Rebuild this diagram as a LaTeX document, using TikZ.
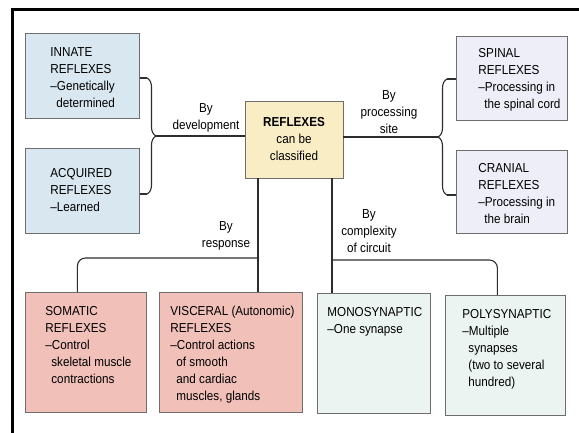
\documentclass[tikz,border=0pt]{standalone}
\usepackage{fontspec}
\setmainfont{Liberation Sans}[FakeStretch=0.9]
\usetikzlibrary{positioning, decorations.pathreplacing}

\definecolor{innblue}{RGB}{217,231,241}
\definecolor{centreyel}{RGB}{248,237,196}
\definecolor{sitelav}{RGB}{238,238,248}
\definecolor{resppink}{RGB}{240,192,185}
\definecolor{cplxmint}{RGB}{235,244,241}
\definecolor{boxline}{RGB}{110,110,110}
\definecolor{linkline}{RGB}{45,45,45}

% width, height, left inset, top inset, text
\newcommand{\boxtext}[5]{\hspace*{#3pt}\parbox[c][#2pt][t]{\dimexpr#1pt-#3pt\relax}{\raggedright\vspace*{#4pt}#5}}

\tikzset{
  box/.style={draw=boxline, line width=0.8pt, anchor=north west, inner sep=0pt},
  link/.style={draw=linkline, line width=1.1pt},
  brc/.style={link, decorate, decoration={brace, amplitude=9pt}},
  lbl/.style={align=center, inner sep=0pt}
}

\begin{document}
\fontsize{13}{17}\selectfont
\begin{tikzpicture}[x=1pt, y=-1pt]
  \useasboundingbox (0,0) rectangle (579,432);
  \clip (0,0) rectangle (579,432);
  \fill[white] (0,0) rectangle (579,432);
  \draw[line width=3pt] (12.5,9.5) rectangle (600,460);

  % boxes
  \node[box, fill=innblue] (innate) at (25,33)
    {\boxtext{114}{85}{25}{14}{INNATE\\REFLEXES\\--Genetically\\\hspace*{6pt}determined}};
  \node[box, fill=innblue] (acquired) at (25,148)
    {\boxtext{114}{85}{25}{20}{ACQUIRED\\REFLEXES\\--Learned}};
  \node[box, fill=centreyel, minimum width=98pt, minimum height=77pt, align=center, anchor=center] (centre) at (294,139.5)
    {\textbf{REFLEXES}\\can be\\classified};
  \node[box, fill=sitelav] (spinal) at (456,36)
    {\boxtext{111}{84}{22}{12}{SPINAL\\REFLEXES\\--Processing in\\\hspace*{6pt}the spinal cord}};
  \node[box, fill=sitelav] (cranial) at (456,150)
    {\boxtext{111}{83}{22}{13}{CRANIAL\\REFLEXES\\--Processing in\\\hspace*{6pt}the brain}};
  \node[box, fill=resppink] (somatic) at (25,292)
    {\boxtext{121}{120}{20}{14}{SOMATIC\\REFLEXES\\--Control\\\hspace*{6pt}skeletal muscle\\\hspace*{6pt}contractions}};
  \node[box, fill=resppink] (visceral) at (159,292)
    {\boxtext{143}{120}{11}{14}{VISCERAL~(Autonomic)\\REFLEXES\\--Control actions\\\hspace*{6pt}of smooth\\\hspace*{6pt}and cardiac\\\hspace*{6pt}muscles, glands}};
  \node[box, fill=cplxmint] (mono) at (317,293)
    {\boxtext{113}{120}{10}{14}{MONOSYNAPTIC\\--One synapse}};
  \node[box, fill=cplxmint] (poly) at (445,295)
    {\boxtext{120}{120}{17}{14}{POLYSYNAPTIC\\--Multiple\\\hspace*{6pt}synapses\\\hspace*{6pt}(two to several\\\hspace*{6pt}hundred)}};

  % by development
  \coordinate (devTop) at (147,78);
  \coordinate (devBot) at (147,194);
  \coordinate (devTip) at (156,136);
  \draw[link] (innate.east |- devTop) -- (devTop);
  \draw[link] (acquired.east |- devBot) -- (devBot);
  \draw[brc] (devTop) -- (devBot);
  \draw[link] (devTip) -- (devTip -| centre.west);
  \node[lbl] (devLbl) at (206,118) {By\\development};

  % by processing site
  \coordinate (siteTop) at (447,79);
  \coordinate (siteBot) at (447,195);
  \coordinate (siteTip) at (438,137);
  \draw[link] (spinal.west |- siteTop) -- (siteTop);
  \draw[link] (cranial.west |- siteBot) -- (siteBot);
  \draw[brc] (siteBot) -- (siteTop);
  \draw[link] (siteTip) -- (siteTip -| centre.east);
  \node[lbl] (siteLbl) at (389,112) {By\\processing\\site};

  % by response
  \coordinate (respFork) at (258,258);
  \draw[link] (respFork |- centre.south) -- (respFork |- visceral.north);
  \draw[link, rounded corners=8pt] (respFork) -| ([xshift=-8.5pt]somatic.north);
  \node[lbl] (respLbl) at (226,236) {By\\response};

  % by complexity of circuit
  \coordinate (cplxFork) at (332,260);
  \draw[link] (cplxFork |- centre.south) -- (cplxFork |- mono.north);
  \draw[link, rounded corners=8pt] (cplxFork) -| ([xshift=-8pt]poly.north);
  \node[lbl] (cplxLbl) at (369,231) {By\\complexity\\of circuit};
\end{tikzpicture}
\end{document}
